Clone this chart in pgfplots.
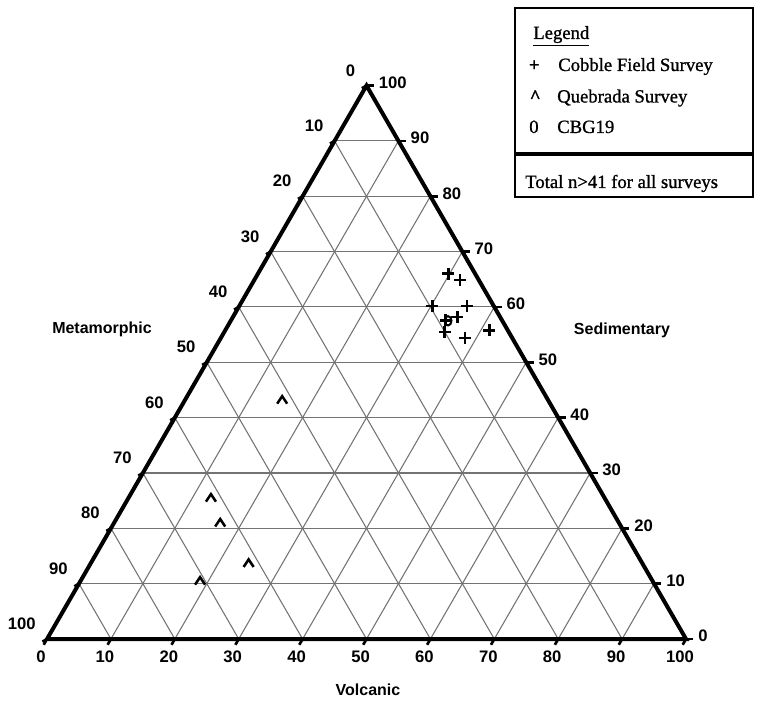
\documentclass[border=0pt]{standalone}
\usepackage{fontspec}
\setmainfont{Liberation Serif}
\newfontfamily\sansf{Liberation Sans}
\newfontfamily\serifh[FakeBold=1]{Liberation Serif}
\usepackage{pgfplots}
\usepackage{pgfplotstable}
\pgfplotsset{compat=1.18}

\pgfdeclareplotmark{caret}{%
  \pgfpathmoveto{\pgfpoint{-\pgfplotmarksize}{-0.75\pgfplotmarksize}}%
  \pgfpathlineto{\pgfpoint{0pt}{0.75\pgfplotmarksize}}%
  \pgfpathlineto{\pgfpoint{\pgfplotmarksize}{-0.75\pgfplotmarksize}}%
  \pgfusepathqstroke}
\pgfdeclareplotmark{zero}{%
  \pgfpathellipse{\pgfpointorigin}{\pgfpoint{0.75\pgfplotmarksize}{0pt}}{\pgfpoint{0pt}{\pgfplotmarksize}}%
  \pgfusepathqstroke}

% ternary compositions: V = Volcanic, S = Sedimentary, M = Metamorphic (percent)
\pgfplotstableread{
V    S    M
29.8 66.0 4.2
32.2 64.9 2.9
30.2 60.2 9.6
35.6 60.2 4.2
35.1 58.2 6.7
33.6 57.6 8.8
34.5 55.5 10.0
38.2 54.4 7.4
41.3 55.8 2.9
}\cobble
\pgfplotstableread{
V    S    M
15.2 43.2 41.6
12.9 25.5 61.6
16.6 21.0 62.4
24.7 13.7 61.6
18.7 10.5 70.8
}\quebrada
\pgfplotstableread{
V    S    M
34.0 57.5 8.5
}\cbg

\tikzset{
  gridl/.style={black!55, line width=0.8pt},
  tickl/.style={black, line width=2pt},
  ticklab/.style={inner sep=0pt, font=\sansf\bfseries\fontsize{12.5}{14}\selectfont},
  axname/.style={inner sep=0pt, font=\sansf\bfseries\fontsize{12}{14}\selectfont},
  legtext/.style={inner sep=0pt, anchor=base west, font=\serifh\fontsize{14}{16}\selectfont},
}

\begin{document}
\begin{tikzpicture}
\begin{axis}[
  width=567.75pt, height=530.25pt, scale only axis,
  xmin=-7.36, xmax=111.11, ymin=-10.64, ymax=100,
  axis line style={draw=none}, xtick=\empty, ytick=\empty,
  clip=false,
]
% grid
\pgfplotsinvokeforeach{10,20,30,40,50,60,70,80,90}{
  \draw[gridl] (axis cs:{#1/2},{#1*0.8660254}) -- (axis cs:{100-#1/2},{#1*0.8660254});
  \draw[gridl] (axis cs:#1,0) -- (axis cs:{50+#1/2},{(100-#1)*0.8660254});
  \draw[gridl] (axis cs:#1,0) -- (axis cs:{#1/2},{#1*0.8660254});
}
% ticks and tick labels
\pgfplotsinvokeforeach{0,10,20,30,40,50,60,70,80,90,100}{
  \draw[tickl] (axis cs:#1,0) -- +(240:5pt);
  \draw[tickl] (axis cs:{100-#1/2},{#1*0.8660254}) -- +(0:5.5pt);
  \draw[tickl] (axis cs:{(100-#1)/2},{(100-#1)*0.8660254}) -- +(210:4pt);
  \node[ticklab, anchor=north, xshift=-4.5pt, yshift=-9pt] at (axis cs:#1,0) {#1};
  \node[ticklab, anchor=west, xshift=9pt, yshift=2.25pt] at (axis cs:{100-#1/2},{#1*0.8660254}) {#1};
  \node[ticklab, anchor=south east, xshift=-8.25pt, yshift=6.75pt] at (axis cs:{(100-#1)/2},{(100-#1)*0.8660254}) {#1};
}
% triangle
\draw[black, line width=3pt] (axis cs:0,0) -- (axis cs:100,0) -- (axis cs:50,86.60254) -- cycle;

% axis names
\node[axname] at (axis cs:8.61,48.51) {Metamorphic};
\node[axname] at (axis cs:89.98,48.36) {Sedimentary};
\node[axname] at (axis cs:50.23,-7.98) {Volcanic};

% data
\addplot[only marks, mark=+, mark size=4.5pt, line width=2pt, black]
  table[x expr=\thisrow{V}+0.5*\thisrow{S}, y expr=0.8660254*\thisrow{S}] {\cobble};
\addplot[only marks, mark=caret, mark size=3.75pt, line width=1.9pt, black, mark options={line join=miter}]
  table[x expr=\thisrow{V}+0.5*\thisrow{S}, y expr=0.8660254*\thisrow{S}] {\quebrada};
\addplot[only marks, mark=zero, mark size=3.5pt, line width=1.5pt, black]
  table[x expr=\thisrow{V}+0.5*\thisrow{S}, y expr=0.8660254*\thisrow{S}] {\cbg};

% legend box
\fill[white] (axis cs:73.24,69.17) rectangle (axis cs:110.49,98.75);
\draw[line width=1.1pt] (axis cs:73.24,69.17) rectangle (axis cs:110.49,98.75);
\draw[line width=3pt] (axis cs:73.24,75.90) -- (axis cs:110.49,75.90);
\node[legtext] at (axis cs:76.06,93.90) {\underline{Legend}};
\node[legtext] at (axis cs:75.37,88.89) {\textbf{+}};
\node[legtext] at (axis cs:79.97,88.89) {Cobble Field Survey};
\node[legtext] at (axis cs:75.51,83.96) {\textbf{\textasciicircum}};
\node[legtext] at (axis cs:79.81,83.96) {Quebrada Survey};
\node[legtext] at (axis cs:75.43,79.19) {0};
\node[legtext] at (axis cs:79.81,79.19) {CBG19};
\node[legtext] at (axis cs:74.80,70.58) {Total n>41 for all surveys};
\end{axis}
\end{tikzpicture}
\end{document}
